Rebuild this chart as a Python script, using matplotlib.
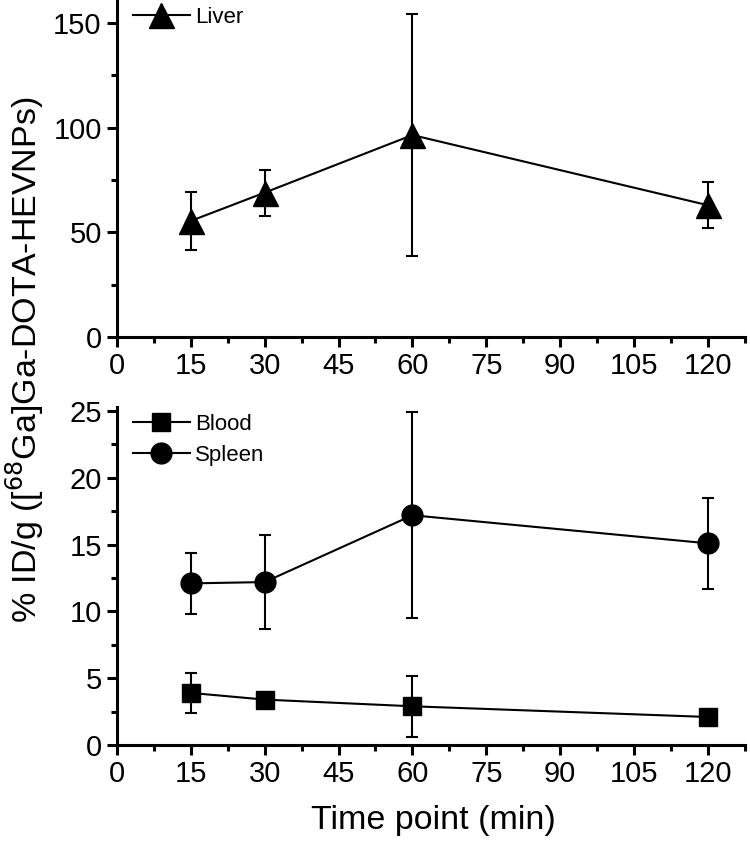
import matplotlib.pyplot as plt

plt.rcParams['font.family'] = ['Liberation Sans', 'DejaVu Sans']

# data
time = [15, 30, 60, 120]
liver = [55.5, 69.0, 96.5, 63.0]
liver_err = [14.0, 11.0, 58.0, 11.0]
blood = [3.9, 3.4, 2.9, 2.1]
blood_err = [1.5, 0.3, 2.3, 0.3]
spleen = [12.1, 12.2, 17.2, 15.1]
spleen_err = [2.3, 3.5, 7.7, 3.4]

xticks = [0, 15, 30, 45, 60, 75, 90, 105, 120]

fig = plt.figure(figsize=(7.5, 8.47), dpi=100)
ax1 = fig.add_axes([0.156, 0.602, 0.837, 0.398])
ax2 = fig.add_axes([0.156, 0.1204, 0.837, 0.399])

style = dict(color='black', lw=1.5, elinewidth=1.5, capsize=4.5, capthick=1.5)

eb_l = ax1.errorbar(time, liver, yerr=liver_err, marker='^', ms=18, **style)
eb_b = ax2.errorbar(time, blood, yerr=blood_err, marker='s', ms=13, **style)
eb_s = ax2.errorbar(time, spleen, yerr=spleen_err, marker='o', ms=15, **style)

ax1.set_ylim(0, 161)
ax1.set_yticks([0, 50, 100, 150])
ax1.set_yticks([25, 75, 125], minor=True)
ax2.set_ylim(0, 25.3)
ax2.set_yticks([0, 5, 10, 15, 20, 25])
ax2.set_yticks([2.5, 7.5, 12.5, 17.5, 22.5], minor=True)

for ax in (ax1, ax2):
    ax.set_xlim(0, 124)
    ax.set_xticks(xticks)
    ax.set_xticks([x + 7.5 for x in xticks], minor=True)
    for s in ('top', 'right'):
        ax.spines[s].set_visible(False)
    for s in ('left', 'bottom'):
        ax.spines[s].set_linewidth(2.2)
    ax.tick_params(which='major', direction='out', length=7, width=2.2, labelsize=21, pad=4)
    ax.tick_params(which='minor', direction='out', length=4, width=2.2)
    for sp in ax.spines.values():
        sp.set_clip_on(False)

ax1.legend([eb_l[0]], ['Liver'], loc='upper left', bbox_to_anchor=(0.0, 1.025), frameon=False,
           fontsize=16, handlelength=2.6, handletextpad=0.2, borderaxespad=0.3)
ax2.legend([eb_b[0], eb_s[0]], ['Blood', 'Spleen'], loc='upper left', bbox_to_anchor=(0.0, 1.025),
           frameon=False, fontsize=16, handlelength=2.6, handletextpad=0.2,
           labelspacing=0.45, borderaxespad=0.3)

fig.text(0.578, 0.031, 'Time point (min)', fontsize=24.5, ha='center', va='center')
fig.text(0.033, 0.575, '% ID/g ([$^{68}$Ga]Ga-DOTA-HEVNPs)', rotation=90,
         fontsize=24.5, ha='center', va='center')

fig.savefig('out.png', dpi=100)
